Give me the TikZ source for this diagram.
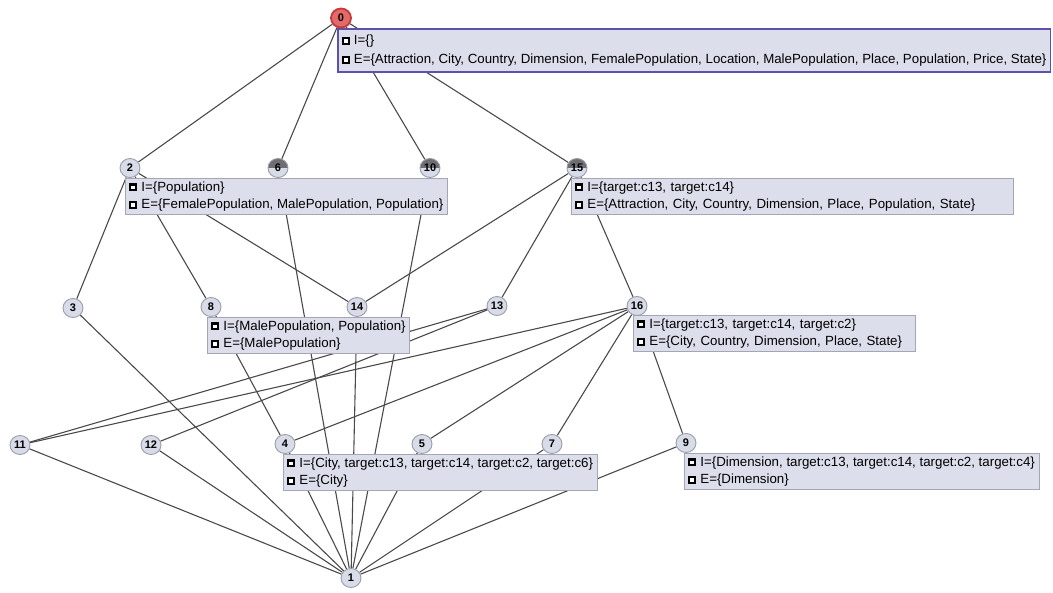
\documentclass[tikz,border=0pt]{standalone}
\usepackage{fontspec}
\setmainfont{Liberation Sans}
\usetikzlibrary{calc,shapes.geometric,backgrounds}
\definecolor{conceptfill}{HTML}{D8DBE8}
\definecolor{conceptline}{HTML}{9A9CAA}
\definecolor{topfill}{HTML}{E46A6A}
\definecolor{topline}{HTML}{C23A3A}
\definecolor{attrtop}{HTML}{6E6E72}
\definecolor{lblfill}{HTML}{DCDEEB}
\definecolor{lblline}{HTML}{A4A6B4}
\definecolor{selline}{HTML}{5E52A8}
\definecolor{edgecol}{HTML}{4A4A4A}
\pgfdeclarelayer{edgelayer}
\pgfdeclarelayer{boxlayer}
\pgfsetlayers{edgelayer,boxlayer,main}
\tikzset{
concept/.style={ellipse,draw=conceptline,fill=conceptfill,line width=0.9pt,minimum width=20pt,minimum height=19pt,inner sep=0.5pt,font=\fontsize{11}{11}\selectfont\bfseries},
topconcept/.style={concept,fill=topfill,draw=topline,line width=1.8pt},
attrconcept/.style={concept,path picture={\fill[attrtop] (path picture bounding box.west) rectangle (path picture bounding box.north east);}},
lbl/.style={draw=lblline,fill=lblfill,line width=0.8pt,align=left,inner xsep=4pt,inner ysep=3pt,anchor=north west,font=\fontsize{13.3}{17.5}\selectfont},
lblsel/.style={lbl,draw=selline,line width=1.8pt,inner ysep=6pt,font=\fontsize{13.3}{19}\selectfont},
edge/.style={draw=edgecol,line width=1.1pt}
}
\newcommand{\Ico}{\rule{8pt}{8pt}\llap{\textcolor{white}{\rule[2pt]{4pt}{3.5pt}}\kern2pt}\kern4pt}

\begin{document}
\begin{tikzpicture}[x=1pt,y=-1pt]
\useasboundingbox (0,0) rectangle (1053,593);
% concepts
\node[topconcept] (c0) at (341,18) {0};
\node[concept] (c2) at (130,168) {2};
\node[attrconcept] (c6) at (278,168) {6};
\node[attrconcept] (c10) at (430,168) {10};
\node[attrconcept] (c15) at (577,168) {15};
\node[concept] (c3) at (73,308) {3};
\node[concept] (c8) at (211,307) {8};
\node[concept] (c14) at (357,307) {14};
\node[concept] (c13) at (497,306) {13};
\node[concept] (c16) at (637,306) {16};
\node[concept] (c11) at (20,445) {11};
\node[concept] (c12) at (151,445) {12};
\node[concept] (c4) at (285,444) {4};
\node[concept] (c5) at (422,444) {5};
\node[concept] (c7) at (552,444) {7};
\node[concept] (c9) at (686,443) {9};
\node[concept] (c1) at (351,578) {1};
% labels
\begin{pgfonlayer}{boxlayer}
\node[lblsel] (l0) at ($(c0)+(-4,10)$) {\Ico I=\{\}\\\Ico E=\{Attraction, City, Country, Dimension, FemalePopulation, Location, MalePopulation, Place, Population, Price, State\}};
\node[lbl] (l2) at ($(c2)+(-5,10)$) {\Ico I=\{Population\}\\\Ico E=\{FemalePopulation, MalePopulation, Population\}};
\node[lbl,text width=434pt] (l15) at ($(c15)+(-6,10)$) {\Ico I=\{target:c13, target:c14\}\\\Ico E=\{Attraction, City, Country, Dimension, Place, Population, State\}};
\node[lbl] (l8) at ($(c8)+(-4,10)$) {\Ico I=\{MalePopulation, Population\}\\\Ico E=\{MalePopulation\}};
\node[lbl,text width=274pt] (l16) at ($(c16)+(-4,9)$) {\Ico I=\{target:c13, target:c14, target:c2\}\\\Ico E=\{City, Country, Dimension, Place, State\}};
\node[lbl] (l4) at ($(c4)+(-2,10)$) {\Ico I=\{City, target:c13, target:c14, target:c2, target:c6\}\\\Ico E=\{City\}};
\node[lbl] (l9) at ($(c9)+(-2,10)$) {\Ico I=\{Dimension, target:c13, target:c14, target:c2, target:c4\}\\\Ico E=\{Dimension\}};
\end{pgfonlayer}
% edges
\begin{pgfonlayer}{edgelayer}
\foreach \a/\b in {0/2,0/6,0/10,0/15,2/3,2/8,2/14,6/1,10/1,15/14,15/13,15/16,
  3/1,8/4,14/1,13/11,13/12,16/11,16/4,16/5,16/7,16/9,11/1,12/1,4/1,5/1,7/1,9/1}
  \draw[edge] (c\a) -- (c\b);
\end{pgfonlayer}
\end{tikzpicture}
\end{document}
